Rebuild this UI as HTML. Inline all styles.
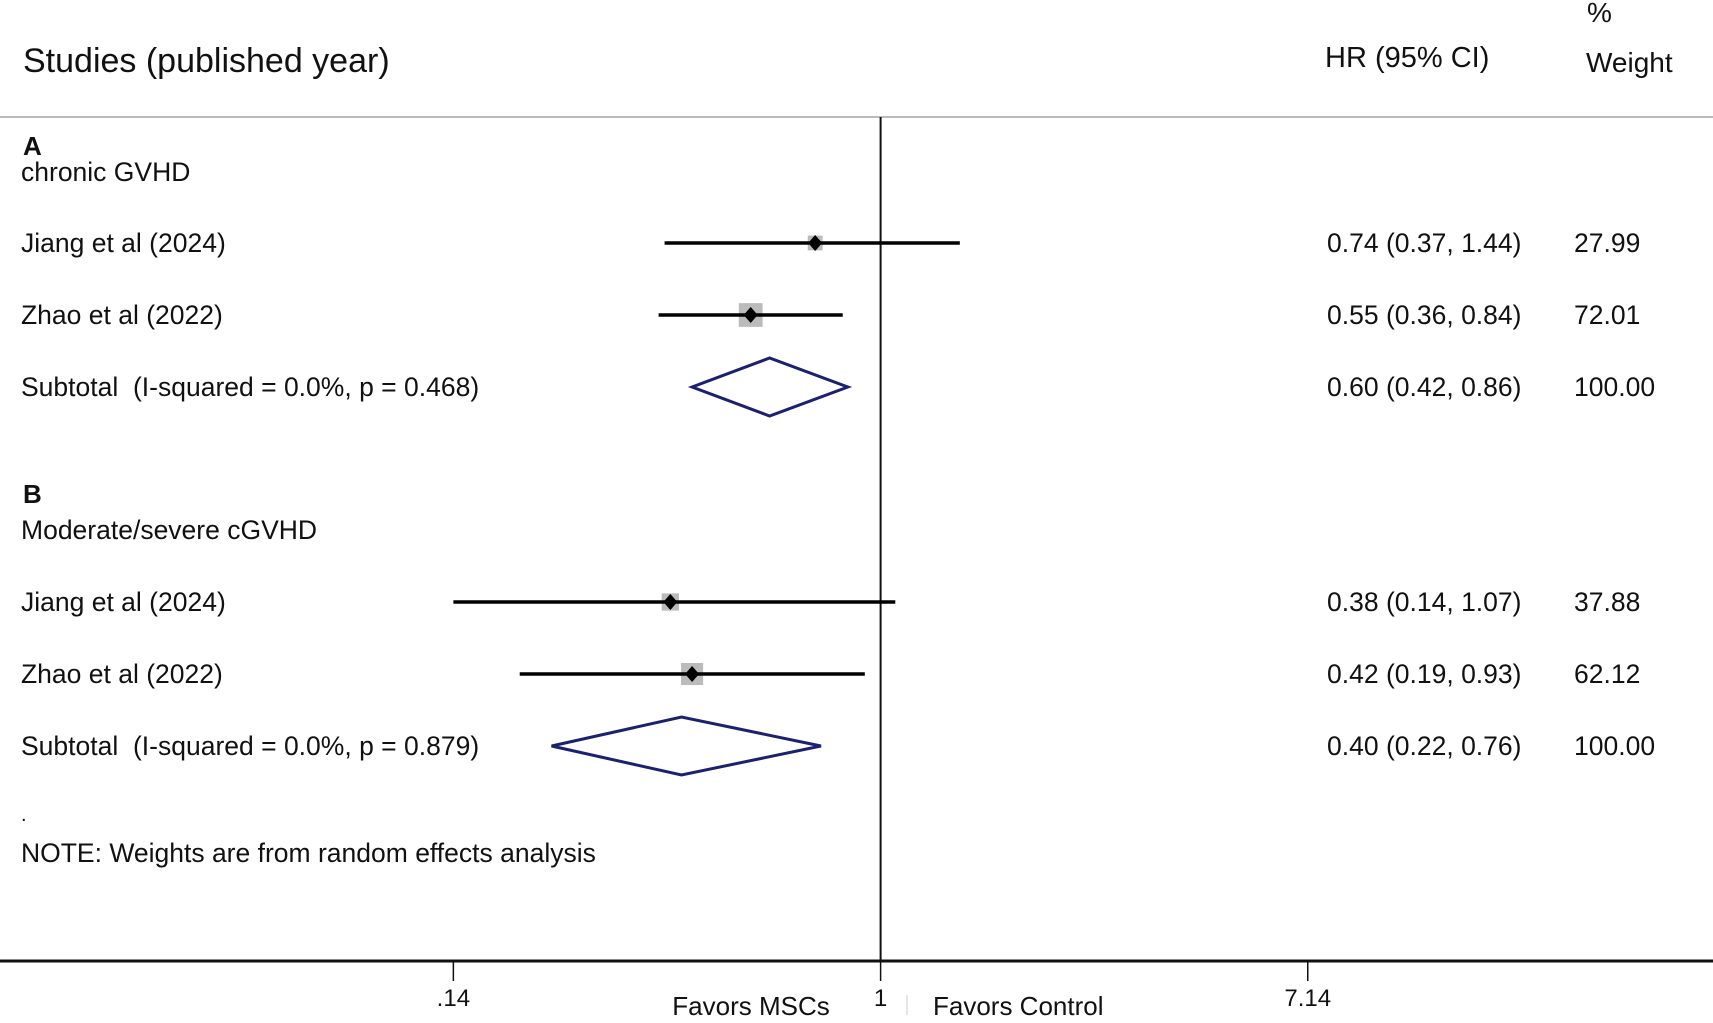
<!DOCTYPE html>
<html><head><meta charset="utf-8"><style>
html,body{margin:0;padding:0;background:#fff;}
svg{display:block;font-family:"Liberation Sans",sans-serif;}
</style></head><body>
<svg id="chart" width="1713" height="1023" viewBox="0 0 1713 1023">
<g id="static">
<text x="23" y="72" font-size="34" fill="#111">Studies (published year)</text>
<text x="1325" y="67" font-size="29" fill="#111">HR (95% CI)</text>
<text x="1587" y="22" font-size="28" fill="#111">%</text>
<text x="1586" y="72" font-size="28" fill="#111">Weight</text>
<line x1="0" y1="117" x2="1713" y2="117" stroke="#bbb" stroke-width="2"/>
<text x="23" y="155" font-size="26" font-weight="bold" fill="#111">A</text>
<text x="21" y="181" font-size="26.5" fill="#111">chronic GVHD</text>
<text x="23" y="503" font-size="26" font-weight="bold" fill="#111">B</text>
<text x="21" y="539" font-size="26.5" fill="#111">Moderate/severe cGVHD</text>
<text x="21" y="821" font-size="20" fill="#111">.</text>
<text x="21" y="862" font-size="26.5" fill="#111">NOTE: Weights are from random effects analysis</text>
</g>
<g id="marks"></g>
<g id="axis"></g>
</svg>
<script>
const rowLabels = ["Jiang et al (2024)","Zhao et al (2022)","Subtotal  (I-squared = 0.0%, p = 0.468)","Jiang et al (2024)","Zhao et al (2022)","Subtotal  (I-squared = 0.0%, p = 0.879)"];
const hr = [0.74,0.55,0.60,0.38,0.42,0.40];
const lower = [0.37,0.36,0.42,0.14,0.19,0.22];
const upper = [1.44,0.84,0.86,1.07,0.93,0.76];
const weights = [27.99,72.01,100.00,37.88,62.12,100.00];
const isSubtotal = [false,false,true,false,false,true];
const hrText = ["0.74 (0.37, 1.44)","0.55 (0.36, 0.84)","0.60 (0.42, 0.86)","0.38 (0.14, 1.07)","0.42 (0.19, 0.93)","0.40 (0.22, 0.76)"];
const weightText = ["27.99","72.01","100.00","37.88","62.12","100.00"];
const rowIndex = [0,1,2,5,6,7];
const tickValues = [0.14,1,7.14];
const tickLabels = [".14","1","7.14"];

const NS="http://www.w3.org/2000/svg";
const x0=880.6, pxPerLn=217.3;
function xScale(v){return x0+Math.log(v)*pxPerLn;}
function yScale(i){return i<3 ? 243+i*72 : 602+(i-5)*72;}
function mk(tag,attrs,parent){const e=document.createElementNS(NS,tag);for(const k in attrs)e.setAttribute(k,attrs[k]);parent.appendChild(e);return e;}
const marks=document.getElementById('marks');
const axis=document.getElementById('axis');

const ref=mk('line',{x1:xScale(1),y1:117,x2:xScale(1),y2:961,stroke:'#111','stroke-width':2},marks);



for(let i=0;i<hr.length;i++){
  const y=yScale(rowIndex[i]);
  const lab=mk('text',{x:21,y:y+9,'font-size':26.5,fill:'#111'},marks);
  lab.setAttribute('xml:space','preserve');
  lab.style.whiteSpace='pre';
  lab.textContent=rowLabels[i];
  
  
  const t=mk('text',{x:1327,y:y+9,'font-size':26.5,fill:'#111'},marks);
  t.textContent=hrText[i];
  
  
  const w=mk('text',{x:1574,y:y+9,'font-size':26.5,fill:'#111'},marks);
  w.textContent=weightText[i];
  
  
  const xl=xScale(lower[i]), xu=xScale(upper[i]), xc=xScale(hr[i]);
  if(isSubtotal[i]){
    const d=mk('polygon',{points:`${xl},${y} ${xc},${y-29} ${xu},${y} ${xc},${y+29}`,fill:'none',stroke:'#1b2170','stroke-width':3},marks);
    
    
  } else {
    const s=Math.sqrt(weights[i])*2.8;
    const sq=mk('rect',{x:xc-s/2,y:y-s/2,width:s,height:s,fill:'#bbb'},marks);
    
    
    const ci=mk('line',{x1:xl,y1:y,x2:xu,y2:y,stroke:'#000','stroke-width':3.5},marks);
    
    
    const pt=mk('polygon',{points:`${xc-7},${y} ${xc},${y-8} ${xc+7},${y} ${xc},${y+8}`,fill:'#000'},marks);
    
    
  }
}

const ax=mk('line',{x1:0,y1:961,x2:1713,y2:961,stroke:'#111','stroke-width':3},axis);


for(let k=0;k<tickValues.length;k++){
  const x=xScale(tickValues[k]);
  const tk=mk('line',{x1:x,y1:961,x2:x,y2:981,stroke:'#111','stroke-width':1.5},axis);
  
  
  const tl=mk('text',{x:x,y:1006,'font-size':24,fill:'#111','text-anchor':'middle'},axis);
  tl.textContent=tickLabels[k];
  
  
}
const f1=mk('text',{x:751,y:1015,'font-size':26,fill:'#111','text-anchor':'middle'},axis);
f1.textContent='Favors MSCs';


const sep=mk('line',{x1:907,y1:995,x2:907,y2:1015,stroke:'#ccc','stroke-width':1},axis);


const f2=mk('text',{x:933,y:1015,'font-size':26,fill:'#111'},axis);
f2.textContent='Favors Control';


</script>
</body></html>
